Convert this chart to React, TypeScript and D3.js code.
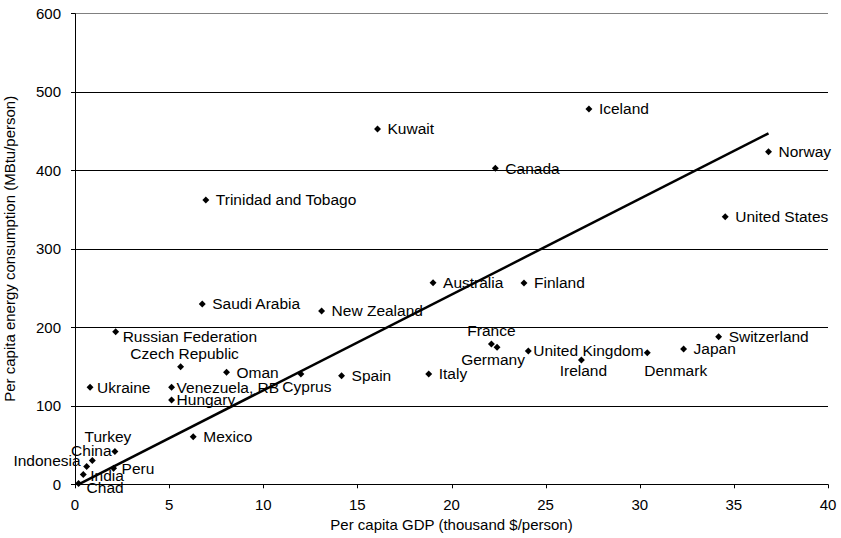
import React from "react";
import * as d3 from "d3";

// Per capita GDP (thousand $/person) and energy use (MBtu/person) by country
const countries = [
  "Iceland", "Kuwait", "Canada", "Norway", "United States", "Trinidad and Tobago",
  "Saudi Arabia", "New Zealand", "Australia", "Finland", "France", "Germany",
  "United Kingdom", "Ireland", "Denmark", "Japan", "Switzerland", "Italy", "Spain",
  "Cyprus", "Oman", "Czech Republic", "Russian Federation", "Ukraine",
  "Venezuela, RB", "Hungary", "Mexico", "Turkey", "China", "Indonesia", "India",
  "Peru", "Chad",
];
const gdp = [
  27.3, 16.07, 22.33, 36.84, 34.54, 6.95,
  6.76, 13.1, 19.02, 23.85, 22.12, 22.42,
  24.08, 26.9, 30.4, 32.33, 34.19, 18.79, 14.16,
  12.0, 8.05, 5.61, 2.16, 0.8,
  5.13, 5.13, 6.28, 2.12, 0.92, 0.62, 0.44,
  2.05, 0.19,
];
const energy = [
  478, 452.6, 402.5, 423.7, 340.9, 362.2,
  229.7, 220.8, 256.8, 256.5, 178.7, 174.5,
  169.8, 158.3, 167.6, 172.4, 188, 140.5, 138.3,
  140.5, 142.7, 149.8, 194.4, 123.6,
  123.6, 107.4, 60.6, 41.8, 30.3, 22.7, 12.5,
  20.4, 1,
];

// Linear trend line: energy = intercept + slope * gdp
const trendSlope = 12.2;
const trendIntercept = -2.3;

const xTicks = [0, 5, 10, 15, 20, 25, 30, 35, 40];
const yTicks = [0, 100, 200, 300, 400, 500, 600];

// Label placement around each marker: anchor and offset in px
type Place = { anchor: "start" | "middle" | "end"; dx: number; dy: number };
const defaultPlace: Place = { anchor: "start", dx: 10, dy: 0 };
const placements: Record<string, Place> = {
  France: { anchor: "middle", dx: 0, dy: -13 },
  Germany: { anchor: "middle", dx: -4, dy: 12 },
  Ireland: { anchor: "middle", dx: 2, dy: 11 },
  Denmark: { anchor: "start", dx: -3, dy: 18 },
  "United Kingdom": { anchor: "start", dx: 5, dy: 0 },
  "Czech Republic": { anchor: "middle", dx: 4, dy: -13 },
  "Russian Federation": { anchor: "start", dx: 7, dy: 5 },
  "Venezuela, RB": { anchor: "start", dx: 5, dy: 0 },
  Hungary: { anchor: "start", dx: 5, dy: 0 },
  Cyprus: { anchor: "middle", dx: 6, dy: 13 },
  Ukraine: { anchor: "start", dx: 7, dy: 0 },
  Turkey: { anchor: "middle", dx: -7, dy: -15 },
  China: { anchor: "middle", dx: -1, dy: -10 },
  Indonesia: { anchor: "end", dx: -6, dy: -6 },
  India: { anchor: "start", dx: 7, dy: 1 },
  Peru: { anchor: "start", dx: 8, dy: 0 },
  Chad: { anchor: "start", dx: 8, dy: 4 },
};

const W = 841;
const H = 538;
const margin = { left: 75, right: 13, top: 13.3, bottom: 53.7 };
const FONT = "'Liberation Sans', Arial, Helvetica, sans-serif";

export default function App() {
  const x = d3.scaleLinear().domain([0, 40]).range([margin.left, W - margin.right]);
  const y = d3.scaleLinear().domain([0, 600]).range([H - margin.bottom, margin.top]);

  // square marker turned 45° to form a diamond
  const diamond = d3.symbol().type(d3.symbolSquare).size(24)() as string;

  const xMin = d3.min(gdp) as number;
  const xMax = d3.max(gdp) as number;
  const trend = d3
    .line<number>()
    .x((v) => x(v))
    .y((v) => y(trendIntercept + trendSlope * v))([xMin, xMax]) as string;

  const x0 = x(0);
  const y0 = y(0);

  return (
    <svg
      width={W}
      height={H}
      style={{ position: "absolute", left: 0, top: 0, display: "block", background: "#fff" }}
      fontFamily={FONT}
    >
      {/* horizontal gridlines */}
      {yTicks.filter((t) => t > 0).map((t) => (
        <line
          key={"g" + t}
          x1={x0}
          x2={x(40)}
          y1={Math.round(y(t)) + 0.5}
          y2={Math.round(y(t)) + 0.5}
          stroke={t === 600 ? "#808080" : "#000"}
          strokeWidth={1}
        />
      ))}

      {/* axes */}
      <line x1={x0 + 0.5} x2={x0 + 0.5} y1={y(600)} y2={y0} stroke="#000" />
      <line x1={x0} x2={x(40)} y1={Math.round(y0) + 0.5} y2={Math.round(y0) + 0.5} stroke="#000" />

      {yTicks.map((t) => (
        <g key={"y" + t}>
          <line x1={x0 - 4} x2={x0} y1={Math.round(y(t)) + 0.5} y2={Math.round(y(t)) + 0.5} stroke="#000" />
          <text x={x0 - 14} y={y(t)} dy="0.35em" textAnchor="end" fontSize={15} fill="#000">
            {t}
          </text>
        </g>
      ))}

      {xTicks.map((t) => (
        <g key={"x" + t}>
          <line x1={Math.round(x(t)) + 0.5} x2={Math.round(x(t)) + 0.5} y1={y0} y2={y0 + 4} stroke="#000" />
          <text x={x(t)} y={y0 + 20} dy="0.35em" textAnchor="middle" fontSize={15} fill="#000">
            {t}
          </text>
        </g>
      ))}

      <text
        x={(x0 + x(40)) / 2}
        y={H - 13}
        dy="0.35em"
        textAnchor="middle"
        fontSize={15}
        fill="#000"
      >
        Per capita GDP (thousand $/person)
      </text>
      <text
        transform={`translate(10, ${(y(0) + y(600)) / 2}) rotate(-90)`}
        dy="0.35em"
        textAnchor="middle"
        fontSize={15}
        fill="#000"
      >
        Per capita energy consumption (MBtu/person)
      </text>

      {/* trend line */}
      <path d={trend} fill="none" stroke="#000" strokeWidth={2.5} />

      {/* country markers and labels */}
      {countries.map((c, i) => {
        const px = x(gdp[i]);
        const py = y(energy[i]);
        const p = placements[c] ?? defaultPlace;
        return (
          <g key={c}>
            <path d={diamond} transform={`translate(${px},${py}) rotate(45)`} fill="#000" />
            <text
              x={px + p.dx}
              y={py + p.dy}
              dy="0.35em"
              textAnchor={p.anchor}
              fontSize={15.5}
              fill="#000"
            >
              {c}
            </text>
          </g>
        );
      })}
    </svg>
  );
}
